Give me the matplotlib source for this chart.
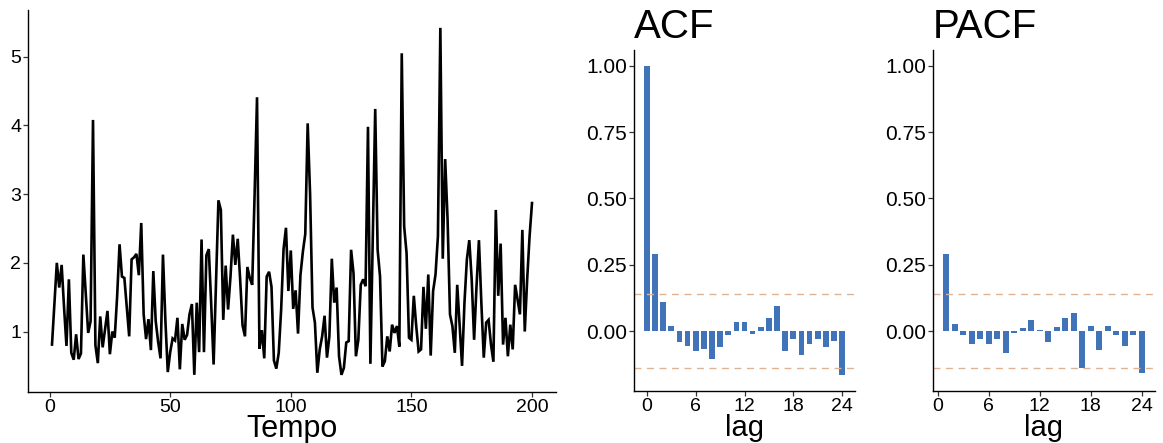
import matplotlib
matplotlib.use('Agg')
import matplotlib.pyplot as plt
import numpy as np

# ---------------- data ----------------
serie_1_50 = [0.81, 1.40, 2.00, 1.64, 1.97, 1.35, 0.79, 1.76, 0.69, 0.59,
              0.96, 0.60, 0.68, 2.12, 1.56, 0.98, 1.15, 4.08, 0.80, 0.54,
              1.22, 0.77, 1.03, 1.30, 0.67, 1.00, 0.91, 1.51, 2.27, 1.80,
              1.78, 1.35, 0.93, 2.05, 2.08, 2.13, 1.82, 2.58, 1.25, 0.89,
              1.18, 0.73, 1.88, 1.15, 0.85, 0.61, 2.12, 1.17, 0.41, 0.70]
serie_51_100 = [0.90, 0.87, 1.20, 0.45, 1.11, 0.88, 0.95, 1.25, 1.40, 0.37,
                1.42, 0.70, 2.34, 0.70, 2.11, 2.20, 1.40, 0.52, 1.70, 2.91,
                2.77, 1.17, 1.96, 1.32, 1.80, 2.41, 1.97, 2.35, 1.76, 1.09,
                0.93, 1.94, 1.78, 1.68, 3.00, 4.41, 0.75, 1.02, 0.61, 1.80,
                1.87, 1.65, 0.58, 0.46, 0.69, 1.32, 2.20, 2.51, 1.59, 2.18]
serie_101_150 = [1.33, 1.60, 0.97, 1.82, 2.16, 2.42, 4.03, 3.00, 1.35, 1.13,
                 0.40, 0.74, 0.93, 1.23, 0.62, 0.93, 2.06, 1.42, 1.64, 0.64,
                 0.37, 0.47, 0.84, 0.86, 2.19, 1.85, 0.64, 0.88, 1.68, 1.76,
                 1.66, 3.98, 0.53, 2.40, 4.24, 2.19, 1.80, 0.49, 0.57, 0.93,
                 0.71, 1.10, 0.98, 1.08, 0.78, 5.05, 2.53, 2.14, 0.91, 0.88]
serie_151_200 = [1.52, 1.08, 0.71, 0.74, 1.65, 1.04, 1.83, 0.65, 1.59, 1.83,
                 2.39, 5.42, 2.06, 3.51, 2.63, 1.25, 1.08, 0.69, 1.68, 1.10,
                 0.50, 1.42, 2.05, 2.33, 1.76, 0.88, 1.66, 2.33, 1.42, 0.62,
                 1.13, 1.17, 0.81, 0.56, 2.77, 1.52, 2.28, 0.81, 1.20, 0.64,
                 1.10, 0.74, 1.68, 1.47, 1.25, 2.48, 1.00, 1.76, 2.39, 2.87]
serie = serie_1_50 + serie_51_100 + serie_101_150 + serie_151_200
tempo = list(range(1, len(serie) + 1))

acf_lags = list(range(0, 25))
acf_vals = [1.00, 0.289, 0.108, 0.021, -0.041, -0.056, -0.075, -0.068, -0.105,
            -0.060, -0.016, 0.036, 0.033, -0.011, 0.014, 0.051, 0.093, -0.075,
            -0.030, -0.090, -0.049, -0.030, -0.060, -0.038, -0.165]

pacf_lags = list(range(1, 25))
pacf_vals = [0.289, 0.025, -0.016, -0.050, -0.030, -0.050, -0.030, -0.083,
             -0.009, 0.010, 0.040, 0.003, -0.043, 0.014, 0.048, 0.070, -0.138,
             0.018, -0.073, 0.018, -0.016, -0.058, -0.016, -0.159]

conf_limit = 0.139

ts_xticks = [0, 50, 100, 150, 200]
ts_yticks = [1, 2, 3, 4, 5]
cf_xticks = [0, 6, 12, 18, 24]
cf_yticks = [0.00, 0.25, 0.50, 0.75, 1.00]
cf_yticklabels = ['0.00', '0.25', '0.50', '0.75', '1.00']

# ---------------- style ----------------
plt.rcParams['font.family'] = ['Liberation Sans', 'DejaVu Sans']
W, H = 1163, 443
fig = plt.figure(figsize=(W / 100, H / 100), dpi=100)

bar_color = '#4173B9'
conf_color = '#DDB396'


def style_axes(ax, tick_size):
    for s in ['top', 'right']:
        ax.spines[s].set_visible(False)
    for s in ['left', 'bottom']:
        ax.spines[s].set_color('black')
        ax.spines[s].set_linewidth(1.0)
    ax.tick_params(axis='both', length=3.5, width=0.9, color='#333333',
                   labelsize=tick_size, labelcolor='black', pad=1.5)


# Time series panel
ax1 = fig.add_axes([28 / W, (H - 392) / H, 528 / W, 382 / H])
ax1.plot(tempo, serie, color='black', lw=1.9, solid_joinstyle='miter')
ax1.set_xlim(-8.95, 209.95)
ax1.set_ylim(0.12, 5.68)
ax1.set_xticks(ts_xticks)
ax1.set_yticks(ts_yticks)
style_axes(ax1, 14)
ax1.set_xlabel('Tempo', fontsize=22, labelpad=-1.5)

# ACF panel
ax2 = fig.add_axes([634 / W, (H - 391) / H, 221 / W, 341 / H])
ax2.bar(acf_lags, acf_vals, width=0.7, color=bar_color)
ax2.axhline(conf_limit, color=conf_color, lw=1.0, ls=(0, (5, 4)))
ax2.axhline(-conf_limit, color=conf_color, lw=1.0, ls=(0, (5, 4)))
ax2.set_xlim(-1.585, 25.585)
ax2.set_ylim(-0.226, 1.06)
ax2.set_xticks(cf_xticks)
ax2.set_yticks(cf_yticks)
ax2.set_yticklabels(cf_yticklabels)
style_axes(ax2, 15)
ax2.tick_params(axis='x', labelsize=14)
ax2.set_xlabel('lag', fontsize=21, labelpad=-0.8)
ax2.set_title('ACF', loc='left', fontsize=29, pad=9)

# PACF panel
ax3 = fig.add_axes([933 / W, (H - 391) / H, 222 / W, 341 / H])
ax3.bar(pacf_lags, pacf_vals, width=0.7, color=bar_color)
ax3.axhline(conf_limit, color=conf_color, lw=1.0, ls=(0, (5, 4)))
ax3.axhline(-conf_limit, color=conf_color, lw=1.0, ls=(0, (5, 4)))
ax3.set_xlim(-0.535, 25.535)
ax3.set_ylim(-0.226, 1.06)
ax3.set_xticks(cf_xticks)
ax3.set_yticks(cf_yticks)
ax3.set_yticklabels(cf_yticklabels)
style_axes(ax3, 15)
ax3.tick_params(axis='x', labelsize=14)
ax3.set_xlabel('lag', fontsize=21, labelpad=-0.8)
ax3.set_title('PACF', loc='left', fontsize=29, pad=9)

fig.savefig('out.png', dpi=100)
